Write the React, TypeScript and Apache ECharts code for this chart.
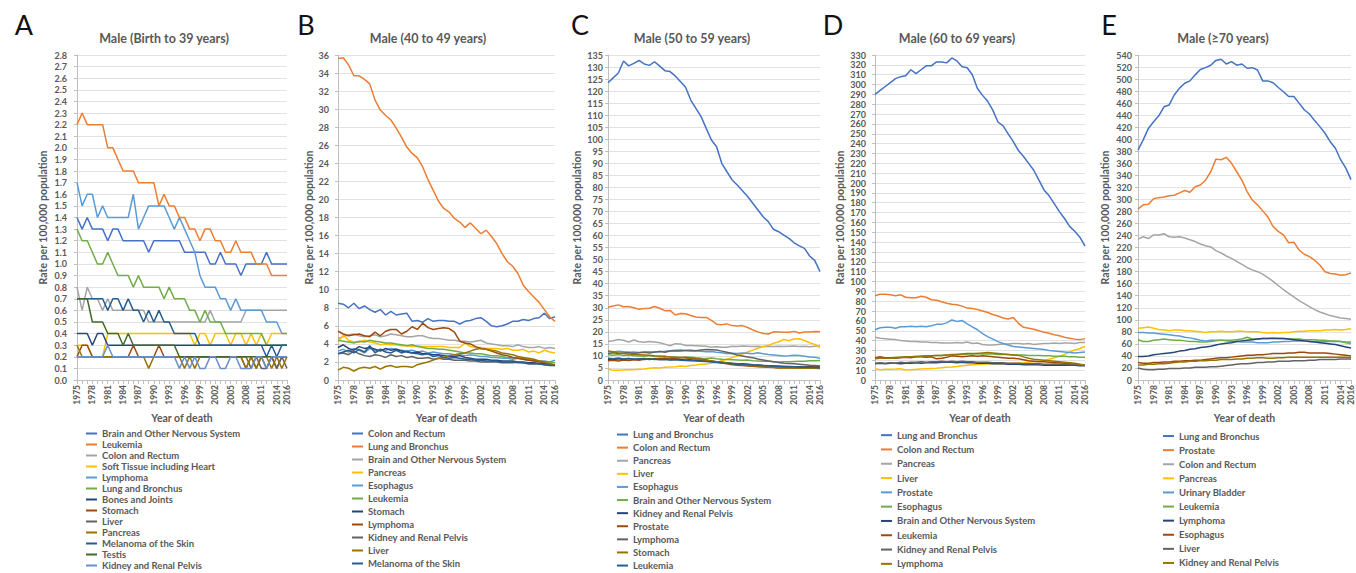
import React, { useEffect, useRef } from "react";
import * as echarts from "echarts";

const YEARS = [
  "1975","1976","1977","1978","1979","1980","1981","1982","1983","1984",
  "1985","1986","1987","1988","1989","1990","1991","1992","1993","1994",
  "1995","1996","1997","1998","1999","2000","2001","2002","2003","2004",
  "2005","2006","2007","2008","2009","2010","2011","2012","2013","2014",
  "2015","2016",
];

const PALETTE = [
  "#4472C4", "#ED7D31", "#A5A5A5", "#FFC000", "#5B9BD5", "#70AD47", "#264478",
  "#9E480E", "#636363", "#997300", "#255E91", "#43682B", "#698ED0",
];

// ---------- Panel A: Male (Birth to 39 years)
const A_NAMES = [
  "Brain and Other Nervous System", "Leukemia", "Colon and Rectum", "Soft Tissue including Heart",
  "Lymphoma", "Lung and Bronchus", "Bones and Joints", "Stomach", "Liver", "Pancreas",
  "Melanoma of the Skin", "Testis", "Kidney and Renal Pelvis",
];
const A_BRAIN = [1.4,1.3,1.4,1.3,1.3,1.3,1.2,1.3,1.3,1.2, 1.2,1.2,1.2,1.2,1.1,1.2,1.2,1.2,1.2,1.2, 1.2,1.1,1.1,1.1,1.1,1.1,1.0,1.0,1.1,1.0, 1.0,1.0,0.9,1.0,1.0,1.0,1.0,1.1,1.0,1.0, 1.0,1.0];
const A_LEUK = [2.2,2.3,2.2,2.2,2.2,2.2,2.0,2.0,1.9,1.8, 1.8,1.8,1.7,1.7,1.7,1.7,1.5,1.6,1.5,1.5, 1.4,1.4,1.3,1.3,1.2,1.3,1.3,1.2,1.2,1.1, 1.1,1.2,1.1,1.1,1.1,1.0,1.0,1.0,0.9,0.9, 0.9,0.9];
const A_COLON = [0.8,0.6,0.8,0.7,0.7,0.6,0.7,0.6,0.6,0.6, 0.6,0.6,0.6,0.6,0.5,0.5,0.5,0.5,0.5,0.5, 0.5,0.5,0.5,0.5,0.5,0.5,0.6,0.5,0.5,0.5, 0.5,0.5,0.5,0.6,0.6,0.6,0.6,0.6,0.6,0.6, 0.6,0.6];
const A_SOFT = [0.3,0.3,0.3,0.2,0.2,0.2,0.4,0.4,0.4,0.4, 0.4,0.4,0.4,0.4,0.4,0.4,0.4,0.4,0.4,0.4, 0.4,0.4,0.4,0.3,0.4,0.4,0.3,0.4,0.4,0.4, 0.3,0.4,0.4,0.3,0.4,0.3,0.4,0.3,0.4,0.4, 0.4,0.4];
const A_LYMPH = [1.7,1.5,1.6,1.6,1.4,1.5,1.4,1.4,1.4,1.4, 1.4,1.6,1.3,1.4,1.5,1.5,1.5,1.5,1.4,1.3, 1.4,1.3,1.2,1.1,0.9,0.8,0.8,0.8,0.7,0.7, 0.6,0.7,0.6,0.6,0.6,0.6,0.6,0.5,0.5,0.5, 0.4,0.4];
const A_LUNG = [1.3,1.2,1.2,1.1,1.0,1.0,1.1,1.0,0.9,0.9, 0.9,0.8,0.9,0.8,0.8,0.8,0.8,0.7,0.8,0.7, 0.7,0.7,0.6,0.6,0.5,0.6,0.5,0.5,0.5,0.4, 0.4,0.4,0.4,0.4,0.4,0.4,0.4,0.3,0.3,0.3, 0.3,0.3];
const A_BONES = [0.4,0.4,0.4,0.3,0.4,0.4,0.3,0.3,0.3,0.3, 0.3,0.3,0.3,0.3,0.3,0.3,0.3,0.3,0.3,0.3, 0.3,0.3,0.3,0.3,0.3,0.3,0.3,0.3,0.3,0.3, 0.3,0.3,0.3,0.3,0.3,0.3,0.3,0.3,0.3,0.3, 0.3,0.3];
const A_STOM = [0.2,0.3,0.3,0.2,0.2,0.2,0.2,0.2,0.2,0.2, 0.2,0.3,0.2,0.2,0.2,0.2,0.3,0.2,0.2,0.2, 0.2,0.2,0.2,0.2,0.2,0.2,0.2,0.2,0.2,0.2, 0.2,0.2,0.2,0.1,0.2,0.1,0.2,0.1,0.2,0.1, 0.2,0.2];
const A_LIVER = [0.2,0.2,0.2,0.2,0.2,0.2,0.2,0.2,0.2,0.2, 0.2,0.2,0.2,0.2,0.2,0.2,0.2,0.2,0.2,0.2, 0.2,0.2,0.2,0.2,0.2,0.2,0.2,0.2,0.2,0.2, 0.2,0.2,0.2,0.2,0.1,0.2,0.1,0.1,0.2,0.1, 0.2,0.1];
const A_PANC = [0.3,0.2,0.2,0.2,0.2,0.2,0.2,0.2,0.2,0.2, 0.2,0.2,0.2,0.2,0.1,0.2,0.2,0.2,0.2,0.2, 0.2,0.1,0.2,0.1,0.2,0.2,0.2,0.2,0.2,0.2, 0.2,0.2,0.2,0.1,0.2,0.1,0.2,0.2,0.1,0.2, 0.1,0.2];
const A_MEL = [0.7,0.7,0.7,0.7,0.7,0.7,0.6,0.7,0.7,0.6, 0.7,0.6,0.6,0.5,0.6,0.5,0.6,0.5,0.5,0.4, 0.4,0.4,0.4,0.4,0.3,0.3,0.3,0.3,0.3,0.3, 0.3,0.3,0.3,0.3,0.3,0.3,0.3,0.2,0.3,0.2, 0.3,0.3];
const A_TESTIS = [0.7,0.7,0.7,0.5,0.5,0.5,0.4,0.4,0.4,0.3, 0.4,0.3,0.3,0.3,0.3,0.3,0.3,0.3,0.3,0.3, 0.2,0.2,0.2,0.2,0.2,0.2,0.2,0.2,0.2,0.2, 0.2,0.2,0.2,0.2,0.2,0.2,0.2,0.2,0.2,0.2, 0.2,0.2];
const A_KIDNEY = [0.2,0.2,0.2,0.2,0.2,0.2,0.3,0.2,0.2,0.2, 0.2,0.2,0.2,0.2,0.2,0.2,0.2,0.2,0.2,0.2, 0.1,0.2,0.1,0.2,0.1,0.1,0.2,0.2,0.1,0.1, 0.2,0.2,0.1,0.1,0.1,0.2,0.2,0.1,0.2,0.2, 0.2,0.2];

// ---------- Panel B: Male (40 to 49 years)
const B_NAMES = [
  "Colon and Rectum", "Lung and Bronchus", "Brain and Other Nervous System", "Pancreas", "Esophagus",
  "Leukemia", "Stomach", "Lymphoma", "Kidney and Renal Pelvis", "Liver", "Melanoma of the Skin",
];
const B_COLON = [8.5,8.4,8.0,8.5,7.9,8.2,7.8,7.5,7.8,7.2, 7.6,7.2,7.3,7.4,6.5,6.6,6.4,6.8,6.5,6.6, 6.6,6.5,6.5,6.2,6.5,6.6,6.8,6.9,6.5,6.0, 5.9,6.0,6.2,6.5,6.5,6.7,6.6,6.8,6.9,7.4, 6.8,7.0];
const B_LUNG = [35.6,35.7,34.9,33.7,33.7,33.3,32.8,31.0,29.9,29.3, 28.8,27.9,26.9,25.8,25.1,24.6,23.6,22.2,21.0,19.8, 19.0,18.6,17.9,17.5,16.9,17.4,16.8,16.2,16.6,15.9, 15.1,14.0,13.1,12.6,11.8,10.5,9.8,9.2,8.6,7.8, 7.0,6.5];
const B_BRAIN = [4.6,4.8,5.0,5.1,4.9,4.8,4.9,5.0,4.8,4.9, 5.1,5.0,4.9,4.8,4.8,4.9,4.9,4.7,4.6,4.6, 4.5,4.4,4.4,4.3,4.3,4.2,4.3,4.4,4.1,4.0, 3.9,3.8,3.8,3.7,3.9,3.7,3.6,3.6,3.7,3.5, 3.6,3.5];
const B_PANC = [4.2,5.0,4.4,4.2,4.2,4.4,4.2,4.1,3.9,4.0, 3.9,3.9,3.8,3.8,3.7,3.8,3.7,3.7,3.7,3.7, 3.7,3.6,3.6,3.6,4.1,3.7,3.6,3.6,3.5,3.5, 3.5,3.4,3.5,3.3,3.3,3.4,3.1,3.2,3.0,3.3, 3.1,3.0];
const B_ESO = [3.2,3.4,3.1,3.5,3.3,3.0,3.5,3.2,3.4,3.3, 3.5,3.4,3.3,3.2,3.3,3.1,3.2,3.0,3.1,3.0, 2.9,2.9,2.8,2.8,2.7,2.8,2.7,2.6,2.6,2.5, 2.5,2.4,2.4,2.3,2.4,2.3,2.2,2.2,2.1,2.1, 2.0,2.2];
const B_LEUK = [4.4,4.3,4.2,4.1,4.3,4.2,4.4,4.3,4.2,4.1, 4.1,4.0,3.9,3.8,3.9,3.7,3.6,3.5,3.5,3.4, 3.4,3.3,3.2,3.1,3.0,3.0,2.9,2.9,2.8,2.7, 2.7,2.6,2.5,2.5,2.4,2.4,2.3,2.2,2.1,2.0, 2.0,1.9];
const B_STOM = [3.6,3.9,3.5,3.3,3.7,3.5,3.6,3.4,3.2,3.5, 3.3,3.4,3.2,3.1,3.0,3.1,2.9,2.9,2.8,2.8, 2.7,2.6,2.6,2.7,2.5,2.4,2.3,2.3,2.3,2.2, 2.2,2.1,2.1,2.1,2.0,2.0,1.9,1.9,1.8,1.8, 1.7,1.6];
const B_LYMPH = [5.4,5.1,4.9,5.0,5.1,4.9,4.8,5.3,4.9,5.4, 5.6,5.6,5.1,5.4,5.9,5.6,6.3,5.8,5.6,5.7, 5.8,5.7,5.3,4.3,4.1,4.0,3.7,3.5,3.4,3.2, 3.0,2.8,2.7,2.5,2.4,2.3,2.2,2.1,2.0,1.9, 1.8,1.6];
const B_KIDNEY = [2.9,3.0,2.8,3.2,2.9,2.7,2.6,2.8,2.7,2.5, 2.8,2.6,2.7,2.5,2.6,2.4,2.4,2.5,2.3,2.4, 2.3,2.3,2.2,2.2,2.2,2.1,2.1,2.0,2.0,2.0, 2.0,1.9,1.9,1.9,2.0,1.9,1.8,1.8,1.8,1.7, 1.7,1.7];
const B_LIVER = [1.1,1.4,1.3,1.0,1.3,1.4,1.3,1.5,1.2,1.5, 1.6,1.4,1.5,1.5,1.4,1.7,1.85,2.0,2.2,2.4, 2.5,2.7,2.8,2.9,3.0,3.2,3.4,3.5,3.4,3.3, 3.2,3.0,2.9,2.8,2.6,2.5,2.4,2.3,2.1,2.0, 1.8,1.7];
const B_MEL = [2.9,3.1,3.3,3.0,3.4,3.1,3.8,3.0,3.4,3.1, 3.0,3.3,3.0,3.2,3.0,2.9,2.8,2.9,2.6,2.7, 2.5,2.4,2.5,2.4,2.3,2.3,2.2,2.2,2.1,2.1, 2.1,2.0,2.0,2.0,1.9,1.9,1.8,1.8,1.8,1.7, 1.6,1.6];

// ---------- Panel C: Male (50 to 59 years)
const C_NAMES = [
  "Lung and Bronchus", "Colon and Rectum", "Pancreas", "Liver", "Esophagus",
  "Brain and Other Nervous System", "Kidney and Renal Pelvis", "Prostate", "Lymphoma", "Stomach", "Leukemia",
];
const C_LUNG = [123.5,125.5,127.5,132.5,130.5,131.5,132.8,131.3,130.7,132.2, 130.4,128.5,128.1,126.3,124.0,121.6,116.3,112.8,109.4,104.5, 99.7,96.9,90.0,86.5,83.1,81.0,78.6,76.2,73.4,70.6, 67.8,65.8,62.6,61.6,60.2,58.8,57.0,55.7,54.7,51.5, 49.6,45.0];
const C_COLON = [30.2,30.7,31.2,30.4,30.5,30.0,29.4,29.7,29.8,30.5, 29.8,28.8,28.9,27.0,27.6,27.5,26.8,26.2,26.0,26.0, 24.8,23.2,23.0,23.3,22.6,22.4,22.6,21.8,20.8,20.0, 19.3,19.1,20.0,19.9,19.8,19.8,20.2,19.5,19.9,19.9, 20.1,20.0];
const C_PANC = [16.0,16.3,16.8,16.5,15.8,16.6,15.9,15.7,16.0,15.8, 15.5,14.9,14.2,15.1,15.0,14.3,14.3,14.2,14.1,14.0, 13.6,13.8,13.6,13.6,14.0,13.9,14.1,14.0,13.9,14.0, 13.8,14.0,13.9,14.0,13.9,14.0,14.1,13.9,14.0,13.8, 14.0,14.1];
const C_LIVER = [4.6,4.0,4.1,4.2,4.3,4.3,4.5,4.6,4.9,5.1, 5.0,5.3,5.4,5.5,5.8,5.6,6.0,6.2,6.5,6.6, 7.1,7.4,8.0,8.6,9.3,10.0,10.8,11.6,12.4,13.2, 13.9,14.4,15.2,15.9,16.8,16.3,17.0,17.1,16.4,15.5, 14.8,13.5];
const C_ESO = [11.8,11.6,11.9,11.7,11.5,11.6,11.4,11.6,11.7,11.5, 11.8,11.9,12.2,12.4,12.5,12.3,12.0,12.0,11.9,11.7, 11.8,11.5,11.3,11.0,11.1,11.0,11.2,11.1,10.9,11.3, 10.9,10.6,10.4,10.2,10.0,10.1,10.3,10.2,9.9,9.6, 9.4,9.0];
const C_BRAIN = [10.5,10.3,10.6,10.2,10.4,10.1,10.0,9.9,10.2,9.8, 9.7,9.9,9.5,9.6,9.4,9.3,9.4,9.2,9.0,8.9, 9.1,8.8,8.6,8.5,8.4,8.3,8.2,8.3,8.0,7.9, 7.8,7.9,7.6,7.5,7.6,7.6,7.7,7.8,7.8,8.0, 8.0,8.1];
const C_KIDNEY = [8.6,8.4,8.8,8.5,8.9,8.6,8.7,8.9,8.5,8.8, 8.6,8.9,8.4,8.7,8.5,8.3,8.4,8.2,8.0,8.1, 7.8,7.6,7.4,7.2,7.0,6.8,6.7,6.5,6.3,6.2, 6.0,5.9,5.8,5.7,5.6,5.6,5.5,5.5,5.4,5.5, 5.4,5.4];
const C_PROST = [8.0,8.2,7.9,8.3,8.1,8.4,8.2,8.6,8.8,8.5, 8.9,9.0,8.7,9.0,9.2,9.5,9.1,8.8,8.6,8.3, 7.9,7.5,7.1,6.7,6.3,6.1,6.0,5.8,5.7,5.5, 5.4,5.3,5.2,5.0,5.1,5.2,5.0,5.1,5.3,5.4, 5.6,5.8];
const C_LYMPH = [11.0,11.3,11.0,11.2,11.4,11.0,11.3,11.5,11.2,11.6, 11.8,11.5,12.0,12.2,12.0,12.3,12.4,12.2,12.5,12.7, 12.6,12.5,12.0,11.5,11.0,10.4,10.0,9.6,9.2,8.7, 8.3,7.9,7.6,7.3,7.0,6.9,6.7,6.5,6.3,6.1, 6.0,5.8];
const C_STOM = [12.0,11.7,11.2,11.0,10.8,10.6,10.5,10.4,10.3,10.1, 10.0,9.8,9.6,9.4,9.3,9.1,8.9,8.6,8.4,8.2, 7.9,7.6,7.4,7.1,6.8,6.5,6.3,6.1,5.9,5.7, 5.6,5.4,5.3,5.1,5.0,5.0,5.1,4.9,4.9,5.0, 4.9,4.8];
const C_LEUK = [9.0,8.8,9.1,8.7,8.9,8.6,8.8,8.5,8.7,8.6, 8.4,8.5,8.3,8.4,8.2,8.1,8.0,7.9,7.8,7.7, 7.5,7.3,7.1,7.0,6.8,6.6,6.5,6.4,6.2,6.1, 6.0,5.9,5.8,5.7,5.6,5.5,5.5,5.4,5.3,5.3, 5.2,5.1];

// ---------- Panel D: Male (60 to 69 years)
const D_NAMES = [
  "Lung and Bronchus", "Colon and Rectum", "Pancreas", "Liver", "Prostate", "Esophagus",
  "Brain and Other Nervous System", "Leukemia", "Kidney and Renal Pelvis", "Lymphoma",
];
const D_LUNG = [290,294,298,302,306,308,309,315,311,315, 319,319,323,323,322,327,324,318,317,310, 296,289,283,274,262,258,250,242,233,227, 220,213,203,193,187,179,171,164,156,151, 145,136];
const D_COLON = [85.5,87,87,86.5,85.5,86.5,84,83.5,83.5,85, 84,81.5,81,79.5,78,77,76.5,75,73,72.5, 71.5,70,68.5,66.5,65,63,62,63.5,57.5,53.5, 52.5,51.5,50,48.5,47.5,46,45,43.5,42.5,41.5, 41,42];
const D_PANC = [43.5,42.5,42,41.5,41,40,39.5,39,39,38.5, 38.5,38,38,37.5,37.5,37.5,38,37.5,38.5,37, 37.5,36,35.5,35.5,36,36.5,36.5,37,37,36.5, 37,36,36.5,37,37,37.5,37,37.5,37.5,37, 38,38];
const D_LIVER = [11.5,10.5,10.8,11,11.2,11.5,10.2,10.5,10.8,11.2, 11.5,11.8,12,12.5,13,13.2,13.8,14.5,15,15.5, 15.8,16,16.3,16.5,16.8,16.5,16.8,17,17.2,17.5, 18,18.5,19,19.8,21,22.5,24,26,28.5,30.5, 32,34];
const D_PROST = [51,53,53.5,53.5,52.5,54,54,54.5,54,54.5, 54,55,56.5,56.5,58,61,59.5,60.5,57,54, 51,47,44,41.5,39,37,35.5,34,33.5,33, 32.5,32,31.5,31,30,29.5,29,28.5,28,27.5, 28,28.5];
const D_ESO = [22,22,22.5,22.5,23,23,23.5,23.5,24,24, 24.5,24.5,25,25,25.5,25.5,26,26,26.5,26.5, 27,26.5,26.5,26.5,26,26,26,25.5,25.5,25.5, 25,25,25,24.5,24.5,24,24,24,23.5,23.5, 23,23];
const D_BRAIN = [16.5,17,16.5,17,17,16.5,17,17,17.5,17, 17.5,17.5,17.5,18,18,18,17.5,18,17.5,17.5, 17,17,17,16.5,16.5,16.5,16,16,16,15.5, 15.5,15.5,15.5,15,15,15,15,15,15,15, 14.5,14.5];
const D_LEUK = [22.5,23.5,22.5,22.5,22,22.5,23,22.5,23.5,23.5, 23,23.5,21.5,22,23,24.5,24,23.5,24,24.5, 24,24.5,24,23.5,23,22.5,22,22,21.5,20.5, 19.5,19,18.5,18.5,18,17.5,17.5,17,16.5,16, 15.5,15];
const D_KIDNEY = [17,17.5,17,17.5,17,18,17.5,18,18,18.5, 18,18.5,18.5,19,18.5,19,18.5,19,18.5,18.5, 18,18,18,17.5,17.5,17.5,17,17,17,16.5, 16.5,16.5,16.5,16,16,16,16,16,15.5,15.5, 15.5,15];
const D_LYMPH = [21.5,22,22,22,22.5,23,23,23.5,23.5,24, 24.5,24.5,25,25,25.5,26,26,26.5,27,27, 27,27.5,28,27.5,27,26.5,26,25.5,25,23.5, 22,21,20.5,20,19.5,19,18.5,18,17.5,17, 16,15];

// ---------- Panel E: Male (>=70 years)
const E_NAMES = [
  "Lung and Bronchus", "Prostate", "Colon and Rectum", "Pancreas", "Urinary Bladder",
  "Leukemia", "Lymphoma", "Esophagus", "Liver", "Kidney and Renal Pelvis",
];
const E_LUNG = [382,399,418,429,439,454,457,474,485,493, 497,507,516,519,523,531,533,525,529,523, 525,518,519,515,497,497,494,486,479,471, 471,460,449,442,431,421,410,396,385,366, 352,333];
const E_PROST = [284,291,292,301,303,304,306,307,311,315, 312,321,324,332,346,367,366,370,360,346, 332,313,299,291,281,271,255,247,241,228, 229,216,209,205,199,191,180,177,176,174, 175,178];
const E_COLON = [234,238,235,241,241,243,238,237,238,236, 233,230,226,223,221,215,211,206,202,197, 192,187,183,180,176,170,164,157,150,144, 138,132,127,122,117,113,110,107,105,103, 102,101];
const E_PANC = [86,87,88,86,84,83,82,83,83,82, 82,81,80,79,80,80,81,80,80,81, 81,80,80,80,79,78,79,78,79,79, 80,81,81,82,82,82,83,83,84,83, 84,85];
const E_BLADDER = [79,79,78,78,77,76,75,74,73,71, 70,68,66,65,66,66,66,65,64,64, 63,63,63,62,62,62,63,63,64,64, 65,65,65,64,64,64,64,64,64,64, 63,63];
const E_LEUK = [67,64,64,66,67,68,67,66,66,65, 64,64,63,63,64,65,66,66,66,67, 68,71,68,68,69,69,70,69,69,68, 68,68,67,67,67,66,66,65,65,64, 62,60];
const E_LYMPH = [39,39,40,42,43,44,45,46,48,49, 51,52,54,55,56,58,60,61,62,64, 65,66,67,68,69,69,69,69,69,68, 67,66,65,64,63,62,61,60,59,57, 55,53];
const E_ESO = [29,28,28,29,29,30,30,31,31,32, 32,33,33,34,35,36,37,37,38,39, 40,41,41,42,42,43,44,44,44,45, 45,46,46,45,45,45,45,44,43,42, 41,40];
const E_LIVER = [20,18,17,17,18,18,19,19,19,20, 20,21,21,21,22,22,23,24,25,26, 27,27,28,29,29,30,30,31,31,31, 32,32,32,33,33,34,34,34,34,35, 35,35];
const E_KIDNEY = [25,25,26,26,27,27,28,29,30,30, 31,31,32,32,33,33,34,34,34,35, 35,36,36,37,37,36,36,37,37,38, 38,38,38,38,38,38,38,38,38,38, 38,37];

const PANELS = [
  { key: "A", title: "Male (Birth to 39 years)", yMax: 2.8, yStep: 0.1, decimals: 1, names: A_NAMES,
    values: [A_BRAIN, A_LEUK, A_COLON, A_SOFT, A_LYMPH, A_LUNG, A_BONES, A_STOM, A_LIVER, A_PANC, A_MEL, A_TESTIS, A_KIDNEY] },
  { key: "B", title: "Male (40 to 49 years)", yMax: 36, yStep: 2, decimals: 0, names: B_NAMES,
    values: [B_COLON, B_LUNG, B_BRAIN, B_PANC, B_ESO, B_LEUK, B_STOM, B_LYMPH, B_KIDNEY, B_LIVER, B_MEL] },
  { key: "C", title: "Male (50 to 59 years)", yMax: 135, yStep: 5, decimals: 0, names: C_NAMES,
    values: [C_LUNG, C_COLON, C_PANC, C_LIVER, C_ESO, C_BRAIN, C_KIDNEY, C_PROST, C_LYMPH, C_STOM, C_LEUK] },
  { key: "D", title: "Male (60 to 69 years)", yMax: 330, yStep: 10, decimals: 0, names: D_NAMES,
    values: [D_LUNG, D_COLON, D_PANC, D_LIVER, D_PROST, D_ESO, D_BRAIN, D_LEUK, D_KIDNEY, D_LYMPH] },
  { key: "E", title: "Male (\u226570 years)", yMax: 540, yStep: 20, decimals: 0, names: E_NAMES,
    values: [E_LUNG, E_PROST, E_COLON, E_PANC, E_BLADDER, E_LEUK, E_LYMPH, E_ESO, E_LIVER, E_KIDNEY] },
];

// layout (pixels)
const LAYOUT = [
  { left: 77, width: 210, nameGap: 29, labelMargin: 10, legendLeft: 86, legendTop: 428, legendRow: 11, letterX: 24, titleX: 164 },
  { left: 338, width: 217, nameGap: 23, labelMargin: 9, legendLeft: 352, legendTop: 427, legendRow: 13, letterX: 306, titleX: 428 },
  { left: 608, width: 212, nameGap: 26, labelMargin: 5, legendLeft: 617, legendTop: 428, legendRow: 13.1, letterX: 580, titleX: 692 },
  { left: 875, width: 210, nameGap: 30, labelMargin: 9, legendLeft: 881, legendTop: 428, legendRow: 14.3, letterX: 833, titleX: 957 },
  { left: 1138, width: 213, nameGap: 28, labelMargin: 6, legendLeft: 1163, legendTop: 429, legendRow: 14.1, letterX: 1109, titleX: 1223 },
];

const FONT = "Lato, 'Open Sans', sans-serif";
const TXT = "#595959";
const LAST = YEARS.length - 1;

function buildOption() {
  const grid = PANELS.map((_, k) => ({ left: LAYOUT[k].left, top: 55, width: LAYOUT[k].width, height: 325 }));
  const xAxis = PANELS.map((_, k) => ({
    type: "category", gridIndex: k, data: YEARS, boundaryGap: false,
    axisLine: { show: true, lineStyle: { color: "#bfbfbf", width: 1 } },
    axisTick: { show: true, interval: 0, length: 4, lineStyle: { color: "#bfbfbf" } },
    axisLabel: {
      interval: (i: number) => i % 3 === 0 || i === LAST,
      rotate: 90, fontSize: 8.5, fontWeight: "bold", color: TXT, margin: 5, fontFamily: FONT,
    },
    splitLine: { show: false },
    name: "Year of death", nameLocation: "middle", nameGap: 32,
    nameTextStyle: { fontSize: 10.5, fontWeight: "bold", color: TXT, fontFamily: FONT },
  }));
  const yAxis = PANELS.map((p, k) => ({
    type: "value", gridIndex: k, min: 0, max: p.yMax, interval: p.yStep,
    axisLine: { show: true, lineStyle: { color: "#bfbfbf", width: 1 } },
    axisTick: { show: true, length: 3, lineStyle: { color: "#bfbfbf" } },
    splitLine: { show: true, lineStyle: { color: "#e2e2e2", width: 1 } },
    axisLabel: {
      formatter: (v: number) => v.toFixed(p.decimals), fontSize: 9, fontWeight: "bold",
      color: TXT, margin: LAYOUT[k].labelMargin, fontFamily: FONT,
    },
    name: "Rate per 100,000 population", nameLocation: "middle", nameGap: LAYOUT[k].nameGap,
    nameTextStyle: { fontSize: 10.5, fontWeight: "bold", color: TXT, fontFamily: FONT },
  }));
  const series: any[] = [];
  const legend: any[] = [];
  PANELS.forEach((p, k) => {
    const ids: string[] = [];
    p.names.forEach((n, j) => {
      const id = p.key + "|" + n;
      ids.push(id);
      series.push({
        type: "line", name: id, xAxisIndex: k, yAxisIndex: k, data: p.values[j],
        symbol: "none", showSymbol: false, smooth: false,
        lineStyle: { width: 1.5, color: PALETTE[j] }, itemStyle: { color: PALETTE[j] },
        emphasis: { disabled: true },
      });
    });
    legend.push({
      orient: "vertical", left: LAYOUT[k].legendLeft, top: LAYOUT[k].legendTop, padding: 0,
      itemWidth: 11, itemHeight: 2, itemGap: 0, icon: "rect", selectedMode: false,
      data: ids, formatter: (n: string) => n.split("|")[1],
      textStyle: { fontSize: 9.5, fontWeight: "bold", color: TXT, fontFamily: FONT, lineHeight: LAYOUT[k].legendRow },
    });
  });
  const graphic: any[] = [];
  PANELS.forEach((p, k) => {
    graphic.push({
      type: "text", x: LAYOUT[k].titleX, y: 38,
      style: { text: p.title, font: "bold 12.5px " + FONT, fill: TXT, textAlign: "center", textVerticalAlign: "middle", align: "center", verticalAlign: "middle" },
    });
    graphic.push({
      type: "text", x: LAYOUT[k].letterX, y: 24,
      style: { text: p.key, font: "27px " + FONT, fill: "#111", textAlign: "center", textVerticalAlign: "middle", align: "center", verticalAlign: "middle" },
    });
  });
  return {
    animation: false,
    backgroundColor: "#ffffff",
    textStyle: { fontFamily: FONT },
    grid, xAxis, yAxis, series, legend, graphic,
  };
}

export default function App() {
  const ref = useRef<HTMLDivElement>(null);
  useEffect(() => {
    if (!ref.current) return;
    const chart = echarts.init(ref.current, undefined, { renderer: "svg" });
    chart.setOption(buildOption() as any);
    return () => chart.dispose();
  }, []);
  return <div ref={ref} style={{ position: "absolute", left: 0, top: 0, width: 1356, height: 573, background: "#fff" }} />;
}
